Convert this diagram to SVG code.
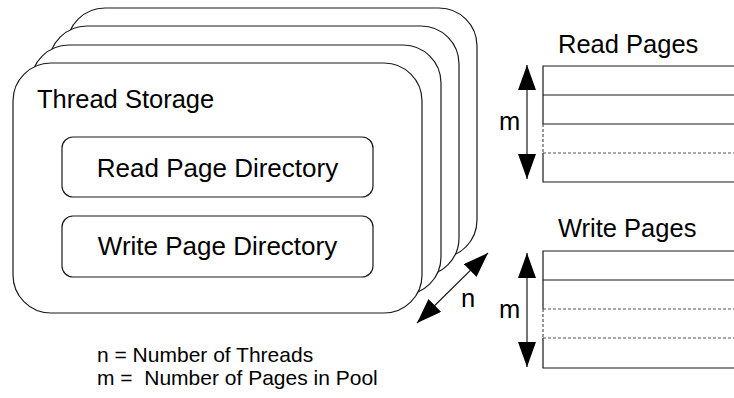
<svg xmlns="http://www.w3.org/2000/svg" width="734" height="398" viewBox="0 0 734 398">
<style>
.s{fill:#fff;stroke:#1a1a1a;stroke-width:1.2}
.t{font-family:"Liberation Sans",Arial,sans-serif;fill:#000}
.big{font-size:25.5px}
.dir{font-size:26px}
.leg{font-size:21px;white-space:pre}
.ln{stroke:#1a1a1a;stroke-width:1.2;fill:none}
.dash{stroke:#555;stroke-width:1.2;stroke-dasharray:3,2;fill:none}
</style>
<defs>
<marker id="ah" viewBox="0 0 25 18" refX="25" refY="9" markerWidth="25" markerHeight="18" markerUnits="userSpaceOnUse" orient="auto-start-reverse">
<path d="M0,0 L25,9 L0,18 z" fill="#000"/>
</marker>
</defs>
<g id="storage-stack">
<rect id="storage-4" class="s" x="67" y="8" width="410" height="250" rx="38"/>
<rect id="storage-3" class="s" x="49" y="26" width="410" height="250" rx="38"/>
<rect id="storage-2" class="s" x="31" y="45" width="410" height="250" rx="38"/>
</g>
<g id="thread-storage">
<rect class="s" x="13" y="63" width="409" height="250" rx="38"/>
<text class="t big" x="37" y="108">Thread Storage</text>
</g>
<g id="read-page-directory">
<rect class="s" x="62" y="137" width="311" height="60" rx="11"/>
<text class="t dir" x="217.5" y="177" text-anchor="middle">Read Page Directory</text>
</g>
<g id="write-page-directory">
<rect class="s" x="62" y="216" width="311" height="61" rx="11"/>
<text class="t dir" x="217.5" y="255" text-anchor="middle">Write Page Directory</text>
</g>
<g id="read-pages">
<text class="t big" x="558" y="53">Read Pages</text>
<path class="ln" d="M740,66 H543 V124 H740 M543,95 H740 M740,182 H543 V153"/>
<path class="dash" d="M543,124 V153 M543,153 H740"/>
</g>
<g id="write-pages">
<text class="t big" x="558" y="237">Write Pages</text>
<path class="ln" d="M740,251 H543 V309 M543,280 H740 M740,368 H543 V338"/>
<path class="dash" d="M543,309 V338 M543,309 H740 M543,338 H740"/>
</g>
<g id="connectors">
<line class="ln" x1="527" y1="65" x2="527" y2="179" marker-start="url(#ah)" marker-end="url(#ah)"/>
<line class="ln" x1="527" y1="253" x2="527" y2="367" marker-start="url(#ah)" marker-end="url(#ah)"/>
<line class="ln" x1="417" y1="323" x2="488" y2="253" marker-start="url(#ah)" marker-end="url(#ah)"/>
</g>
<g id="labels">
<text class="t big" x="499" y="130">m</text>
<text class="t big" x="499" y="318">m</text>
<text class="t big" x="461" y="307">n</text>
<text class="t leg" x="97" y="362">n = Number of Threads</text>
<text class="t leg" x="97" y="385">m =  Number of Pages in Pool</text>
</g>
</svg>
